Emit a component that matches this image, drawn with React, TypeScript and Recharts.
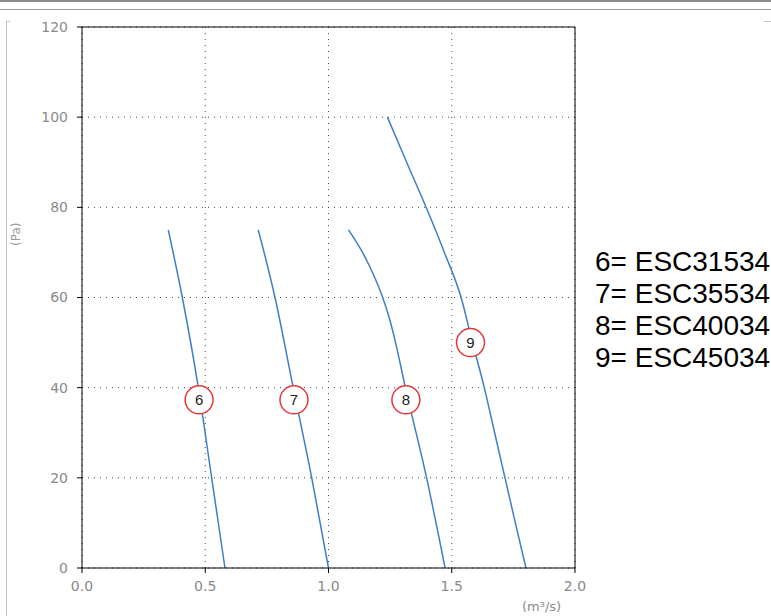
import React from 'react';
import { LineChart, Line, XAxis, YAxis, CartesianGrid, ReferenceLine, ReferenceDot } from 'recharts';

// fan curves: pressure (Pa) against flow (m3/s)
const fan6 = [
  { x: 0.35, y: 75 },
  { x: 0.407, y: 60 },
  { x: 0.472, y: 40 },
  { x: 0.526, y: 20 },
  { x: 0.58, y: 0 },
];
const fan7 = [
  { x: 0.715, y: 75 },
  { x: 0.783, y: 60 },
  { x: 0.857, y: 40 },
  { x: 0.932, y: 20 },
  { x: 1.0, y: 0 },
];
const fan8 = [
  { x: 1.081, y: 75 },
  { x: 1.138, y: 70 },
  { x: 1.183, y: 65 },
  { x: 1.22, y: 60 },
  { x: 1.249, y: 55 },
  { x: 1.272, y: 50 },
  { x: 1.312, y: 40 },
  { x: 1.398, y: 20 },
  { x: 1.473, y: 0 },
];
const fan9 = [
  { x: 1.239, y: 100 },
  { x: 1.317, y: 90 },
  { x: 1.396, y: 80 },
  { x: 1.47, y: 70 },
  { x: 1.538, y: 60 },
  { x: 1.584, y: 50 },
  { x: 1.632, y: 40 },
  { x: 1.674, y: 30 },
  { x: 1.716, y: 20 },
  { x: 1.758, y: 10 },
  { x: 1.801, y: 0 },
];
const curves = [fan6, fan7, fan8, fan9];

// circled numbers on the curves
const markerNames = ['6', '7', '8', '9'];
const markerX = [0.475, 0.86, 1.314, 1.576];
const markerY = [37.3, 37.3, 37.3, 50];

const legendLines = ['6= ESC31534', '7= ESC35534', '8= ESC40034', '9= ESC45034'];

const xTicks = [0, 0.5, 1, 1.5, 2];
const yTicks = [0, 20, 40, 60, 80, 100, 120];

const tickStyle = { fontSize: 14, fill: '#8a8a8a', fontFamily: 'DejaVu Sans' };

export default function App() {
  return (
    <div style={{ position: 'absolute', left: 0, top: 0, width: 771, height: 616, background: '#fff', overflow: 'hidden' }}>
      {/* page decorations */}
      <div style={{ position: 'absolute', left: 0, top: 0, width: 771, height: 2, background: '#8c8c8c' }} />
      <div style={{ position: 'absolute', left: 0, top: 9, width: 771, height: 1, background: '#9a9a9a' }} />
      <div style={{ position: 'absolute', left: 6, top: 21, width: 1, height: 595, background: '#c4c4c4' }} />
      <div style={{ position: 'absolute', left: 6, top: 21, width: 4, height: 1, background: '#c4c4c4' }} />
      <div style={{ position: 'absolute', left: 764, top: 21, width: 7, height: 1, background: '#c4c4c4' }} />

      <LineChart width={771} height={616} margin={{ top: 27, right: 196, left: 0, bottom: 18 }}>
        <CartesianGrid stroke="#444" strokeDasharray="1 5" />
        <XAxis
          type="number"
          dataKey="x"
          domain={[0, 2]}
          ticks={xTicks}
          tickFormatter={(v: number) => v.toFixed(1)}
          height={30}
          stroke="#000"
          tickSize={5}
          tickMargin={8}
          tick={tickStyle}
          allowDuplicatedCategory={false}
        />
        <YAxis
          type="number"
          dataKey="y"
          domain={[0, 120]}
          ticks={yTicks}
          width={82}
          stroke="#000"
          tickSize={5}
          tickMargin={9}
          tick={tickStyle}
        />
        <ReferenceLine y={120} stroke="#000" />
        <ReferenceLine x={2} stroke="#000" />
        {curves.map((c, i) => (
          <Line
            key={i}
            data={c}
            dataKey="y"
            type="monotone"
            stroke="#3d7fc6"
            strokeWidth={1.5}
            dot={false}
            isAnimationActive={false}
          />
        ))}
        {markerNames.map((n, i) => (
          <ReferenceDot
            key={n}
            x={markerX[i]}
            y={markerY[i]}
            r={14}
            fill="#fff"
            stroke="#e23a3a"
            strokeWidth={1.5}
            label={{ value: n, position: 'center', fill: '#222', fontSize: 15, fontFamily: 'Liberation Sans' }}
          />
        ))}
      </LineChart>

      <div
        style={{
          position: 'absolute', left: 6, top: 236, transform: 'translate(0, -50%) rotate(-90deg)',
          fontFamily: 'DejaVu Sans', fontSize: 12, color: '#9a9a9a', width: 20, textAlign: 'center',
        }}
      >
        (Pa)
      </div>
      <div
        style={{ position: 'absolute', left: 522, top: 599, fontFamily: 'DejaVu Sans', fontSize: 13, color: '#8a8a8a' }}
      >
        (m³/s)
      </div>

      <div style={{ position: 'absolute', left: 595, top: 246, fontFamily: 'Liberation Sans, Arial', fontSize: 28, lineHeight: '32px', color: '#000', whiteSpace: 'nowrap' }}>
        {legendLines.map((t) => (
          <div key={t}>{t}</div>
        ))}
      </div>
    </div>
  );
}
